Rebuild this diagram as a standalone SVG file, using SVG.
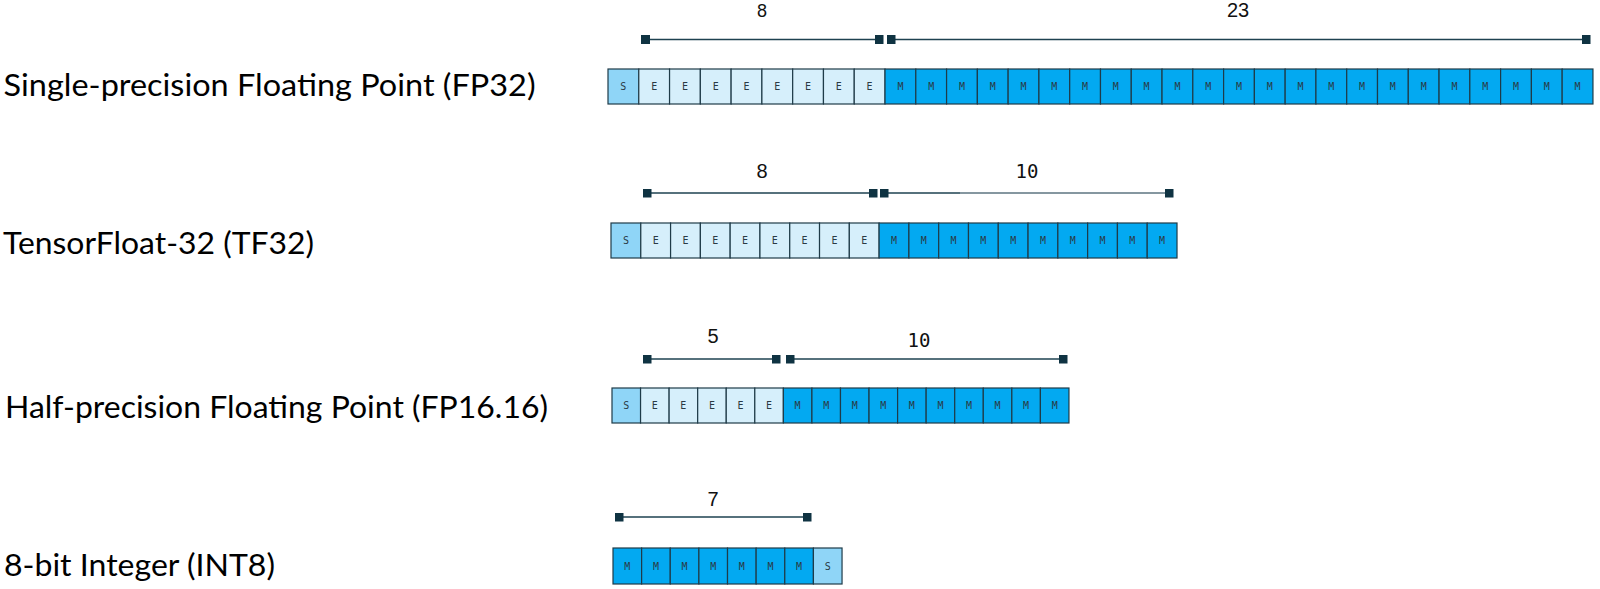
<svg xmlns="http://www.w3.org/2000/svg" xmlns:xlink="http://www.w3.org/1999/xlink" width="1600" height="589" viewBox="0 0 1600 589">
<style>
.lbl{font-family:Lato,"Open Sans","Liberation Sans",sans-serif;font-size:31px;fill:#000}
.num{font-family:"Liberation Sans",Arial,sans-serif;font-size:20px;fill:#111;text-anchor:middle}
.mono{font-family:"DejaVu Sans Mono","Liberation Mono",monospace;font-size:19px;fill:#111;text-anchor:middle}
.ct{font-family:"DejaVu Sans Mono","Liberation Mono",monospace;font-size:10px;fill:#2a3a44;text-anchor:middle;dominant-baseline:central}
.S{fill:#8fd5f7;stroke:#1f3b48;stroke-width:1.2}
.E{fill:#d6effb;stroke:#1f3b48;stroke-width:1.2}
.M{fill:#03a9f1;stroke:#1f3b48;stroke-width:1.2}
.br{stroke:#1e4250;stroke-width:1.4;fill:none;marker-start:url(#sq);marker-end:url(#sq)}
</style>
<defs>
<marker id="sq" viewBox="0 0 10 10" refX="5" refY="5" markerWidth="9" markerHeight="9" markerUnits="userSpaceOnUse"><rect width="10" height="10" fill="#0f3342"/></marker>
<g id="r1S"><rect class="S" width="30.78" height="35"/><text class="ct" x="15.39" y="17.5">S</text></g>
<g id="r1E"><rect class="E" width="30.78" height="35"/><text class="ct" x="15.39" y="17.5">E</text></g>
<g id="r1M"><rect class="M" width="30.78" height="35"/><text class="ct" x="15.39" y="17.5">M</text></g>
<g id="r2S"><rect class="S" width="29.79" height="35"/><text class="ct" x="14.9" y="17.5">S</text></g>
<g id="r2E"><rect class="E" width="29.79" height="35"/><text class="ct" x="14.9" y="17.5">E</text></g>
<g id="r2M"><rect class="M" width="29.79" height="35"/><text class="ct" x="14.9" y="17.5">M</text></g>
<g id="r3S"><rect class="S" width="28.56" height="35"/><text class="ct" x="14.28" y="17.5">S</text></g>
<g id="r3E"><rect class="E" width="28.56" height="35"/><text class="ct" x="14.28" y="17.5">E</text></g>
<g id="r3M"><rect class="M" width="28.56" height="35"/><text class="ct" x="14.28" y="17.5">M</text></g>
<g id="r4S"><rect class="S" width="28.63" height="36"/><text class="ct" x="14.3" y="18">S</text></g>
<g id="r4M"><rect class="M" width="28.63" height="36"/><text class="ct" x="14.3" y="18">M</text></g>
</defs>
<rect width="1600" height="589" fill="#fff"/>

<g id="fp32">
<text class="lbl" x="3.6" y="95.5" textLength="532" lengthAdjust="spacingAndGlyphs">Single-precision Floating Point (FP32)</text>
<use href="#r1S" x="608" y="69"/>
<use href="#r1E" x="638.78" y="69"/>
<use href="#r1E" x="669.56" y="69"/>
<use href="#r1E" x="700.34" y="69"/>
<use href="#r1E" x="731.12" y="69"/>
<use href="#r1E" x="761.9" y="69"/>
<use href="#r1E" x="792.68" y="69"/>
<use href="#r1E" x="823.46" y="69"/>
<use href="#r1E" x="854.24" y="69"/>
<use href="#r1M" x="885.02" y="69"/>
<use href="#r1M" x="915.8" y="69"/>
<use href="#r1M" x="946.58" y="69"/>
<use href="#r1M" x="977.36" y="69"/>
<use href="#r1M" x="1008.14" y="69"/>
<use href="#r1M" x="1038.92" y="69"/>
<use href="#r1M" x="1069.7" y="69"/>
<use href="#r1M" x="1100.48" y="69"/>
<use href="#r1M" x="1131.26" y="69"/>
<use href="#r1M" x="1162.04" y="69"/>
<use href="#r1M" x="1192.82" y="69"/>
<use href="#r1M" x="1223.6" y="69"/>
<use href="#r1M" x="1254.38" y="69"/>
<use href="#r1M" x="1285.16" y="69"/>
<use href="#r1M" x="1315.94" y="69"/>
<use href="#r1M" x="1346.72" y="69"/>
<use href="#r1M" x="1377.5" y="69"/>
<use href="#r1M" x="1408.28" y="69"/>
<use href="#r1M" x="1439.06" y="69"/>
<use href="#r1M" x="1469.84" y="69"/>
<use href="#r1M" x="1500.62" y="69"/>
<use href="#r1M" x="1531.4" y="69"/>
<use href="#r1M" x="1562.18" y="69"/>
</g>

<g id="tf32">
<text class="lbl" x="3" y="254" textLength="311" lengthAdjust="spacingAndGlyphs">TensorFloat-32 (TF32)</text>
<use href="#r2S" x="611" y="223"/>
<use href="#r2E" x="640.79" y="223"/>
<use href="#r2E" x="670.58" y="223"/>
<use href="#r2E" x="700.37" y="223"/>
<use href="#r2E" x="730.16" y="223"/>
<use href="#r2E" x="759.95" y="223"/>
<use href="#r2E" x="789.74" y="223"/>
<use href="#r2E" x="819.53" y="223"/>
<use href="#r2E" x="849.32" y="223"/>
<use href="#r2M" x="879.11" y="223"/>
<use href="#r2M" x="908.9" y="223"/>
<use href="#r2M" x="938.69" y="223"/>
<use href="#r2M" x="968.48" y="223"/>
<use href="#r2M" x="998.27" y="223"/>
<use href="#r2M" x="1028.06" y="223"/>
<use href="#r2M" x="1057.85" y="223"/>
<use href="#r2M" x="1087.64" y="223"/>
<use href="#r2M" x="1117.43" y="223"/>
<use href="#r2M" x="1147.22" y="223"/>
</g>

<g id="fp16">
<text class="lbl" x="5" y="418" textLength="543" lengthAdjust="spacingAndGlyphs">Half-precision Floating Point (FP16.16)</text>
<use href="#r3S" x="612" y="388"/>
<use href="#r3E" x="640.56" y="388"/>
<use href="#r3E" x="669.12" y="388"/>
<use href="#r3E" x="697.68" y="388"/>
<use href="#r3E" x="726.24" y="388"/>
<use href="#r3E" x="754.8" y="388"/>
<use href="#r3M" x="783.36" y="388"/>
<use href="#r3M" x="811.92" y="388"/>
<use href="#r3M" x="840.48" y="388"/>
<use href="#r3M" x="869.04" y="388"/>
<use href="#r3M" x="897.6" y="388"/>
<use href="#r3M" x="926.16" y="388"/>
<use href="#r3M" x="954.72" y="388"/>
<use href="#r3M" x="983.28" y="388"/>
<use href="#r3M" x="1011.84" y="388"/>
<use href="#r3M" x="1040.4" y="388"/>
</g>

<g id="int8">
<text class="lbl" x="4" y="576" textLength="271" lengthAdjust="spacingAndGlyphs">8-bit Integer (INT8)</text>
<use href="#r4M" x="613" y="548"/>
<use href="#r4M" x="641.63" y="548"/>
<use href="#r4M" x="670.26" y="548"/>
<use href="#r4M" x="698.89" y="548"/>
<use href="#r4M" x="727.52" y="548"/>
<use href="#r4M" x="756.15" y="548"/>
<use href="#r4M" x="784.78" y="548"/>
<use href="#r4S" x="813.41" y="548"/>
</g>

<g id="connectors">
<line class="br" x1="645.5" y1="39.5" x2="879" y2="39.5"/>
<line class="br" x1="891" y1="39.5" x2="1586" y2="39.5"/>
<text class="num" x="762" y="17" style="font-size:18px">8</text>
<text class="num" x="1238" y="17">23</text>

<line class="br" x1="647" y1="193" x2="873" y2="193"/>
<line x1="884" y1="193" x2="960" y2="193" stroke="#1e4250" stroke-width="1.4" marker-start="url(#sq)"/>
<line x1="960" y1="193" x2="1169" y2="193" stroke="#5c7580" stroke-width="1.4" marker-end="url(#sq)"/>
<text class="num" x="762" y="178">8</text>
<text class="mono" x="1027" y="178">10</text>

<line class="br" x1="647" y1="359" x2="776" y2="359"/>
<line class="br" x1="790" y1="359" x2="1063" y2="359"/>
<text class="num" x="713" y="343">5</text>
<text class="mono" x="919" y="347">10</text>

<line class="br" x1="619" y1="517" x2="807" y2="517"/>
<text class="num" x="713" y="506">7</text>
</g>
</svg>
